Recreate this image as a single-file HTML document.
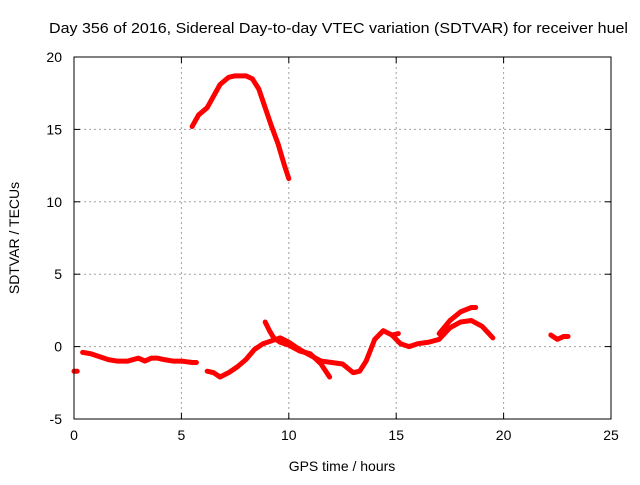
<!DOCTYPE html>
<html><head><meta charset="utf-8"><style>
body{margin:0;background:#fff}
text{font-family:"Liberation Sans",sans-serif;font-size:14px;fill:#000}
</style></head><body>
<svg id="c" width="640" height="480">
<rect width="640" height="480" fill="#fff"/>
<g id="grid"></g><g id="data"></g><g id="axes"></g>
<text x="49" y="33" style="font-size:15px" textLength="579" lengthAdjust="spacingAndGlyphs">Day 356 of 2016, Sidereal Day-to-day VTEC variation (SDTVAR) for receiver huel</text>
<text x="342" y="471" text-anchor="middle">GPS time / hours</text>
<text transform="translate(19,238) rotate(-90)" text-anchor="middle">SDTVAR / TECUs</text>
</svg>
<script>
const xTicks=[0,5,10,15,20,25];
const yTicks=[-5,0,5,10,15,20];
const seg1=[[0,-1.7],[0.15,-1.7]];
const seg2=[[0.4,-0.4],[0.8,-0.5],[1.2,-0.7],[1.6,-0.9],[2,-1.0],[2.5,-1.0],[3,-0.8],[3.3,-1.0],[3.6,-0.8],[3.9,-0.8],[4.2,-0.9],[4.6,-1.0],[5,-1.0],[5.5,-1.1],[5.7,-1.1]];
const seg3=[[5.5,15.2],[5.8,16],[6.2,16.5],[6.5,17.3],[6.8,18.1],[7.2,18.6],[7.5,18.7],[8,18.7],[8.3,18.5],[8.6,17.8],[8.9,16.5],[9.2,15.2],[9.5,14],[9.8,12.5],[10,11.6]];
const seg4=[[6.2,-1.7],[6.5,-1.8],[6.8,-2.1],[7.2,-1.8],[7.6,-1.4],[8,-0.9],[8.4,-0.2],[8.8,0.2],[9.2,0.4],[9.6,0.6],[10,0.3],[10.5,-0.2],[11,-0.6],[11.5,-1.0],[12,-1.1],[12.5,-1.2],[13,-1.8],[13.3,-1.7],[13.6,-1.0],[14,0.5],[14.4,1.1],[14.8,0.8],[15.2,0.2],[15.6,0],[16,0.2],[16.5,0.3],[17,0.5],[17.5,1.3],[18,1.7],[18.5,1.8],[19,1.4],[19.5,0.6]];
const seg5=[[8.9,1.7],[9.1,1.1],[9.3,0.6],[9.6,0.3],[10,0.1],[10.5,-0.3],[11,-0.5],[11.5,-1.2],[11.9,-2.1]];
const seg6=[[17,0.9],[17.5,1.8],[18,2.4],[18.5,2.7],[18.7,2.7]];
const seg7=[[22.2,0.8],[22.5,0.5],[22.8,0.7],[23,0.7]];
const seg8=[[14.8,0.8],[15.1,0.9]];
const segments=[seg1,seg2,seg3,seg4,seg5,seg6,seg7,seg8];
const L=74,R=611,T=57,B=419;
const X=v=>L+(v-0)/25*(R-L);
const Y=v=>B-(v+5)/25*(B-T);
const NS="http://www.w3.org/2000/svg";
function mk(t,a,p){const e=document.createElementNS(NS,t);for(const k in a)e.setAttribute(k,a[k]);p.appendChild(e);return e;}
const grid=document.getElementById('grid'),axes=document.getElementById('axes'),data=document.getElementById('data');
xTicks.forEach(v=>{
 if(v>0&&v<25){const g=mk('line',{x1:X(v),x2:X(v),y1:T,y2:B,stroke:'#a0a0a0','stroke-dasharray':'2,3'},grid);
 
 }
 mk('line',{x1:X(v),x2:X(v),y1:B,y2:B-6,stroke:'#000'},axes);
 mk('line',{x1:X(v),x2:X(v),y1:T,y2:T+6,stroke:'#000'},axes);
 const t=mk('text',{x:X(v),y:B+21,'text-anchor':'middle'},axes);t.textContent=v;
 
 
});
yTicks.forEach(v=>{
 if(v>-5&&v<20){const g=mk('line',{x1:L,x2:R,y1:Y(v),y2:Y(v),stroke:'#a0a0a0','stroke-dasharray':'2,3'},grid);
 
 }
 mk('line',{x1:L,x2:L+6,y1:Y(v),y2:Y(v),stroke:'#000'},axes);
 mk('line',{x1:R,x2:R-6,y1:Y(v),y2:Y(v),stroke:'#000'},axes);
 const t=mk('text',{x:L-12,y:Y(v)+5,'text-anchor':'end'},axes);t.textContent=v;
 
 
});
const fr=mk('rect',{x:L,y:T,width:R-L,height:B-T,fill:'none',stroke:'#000'},axes);


segments.forEach(s=>{
 const p=mk('polyline',{points:s.map(d=>X(d[0])+','+Y(d[1])).join(' '),fill:'none',stroke:'#ff0000','stroke-width':5,'stroke-linejoin':'round','stroke-linecap':'round'},data);
 
 
});
</script>
</body></html>
